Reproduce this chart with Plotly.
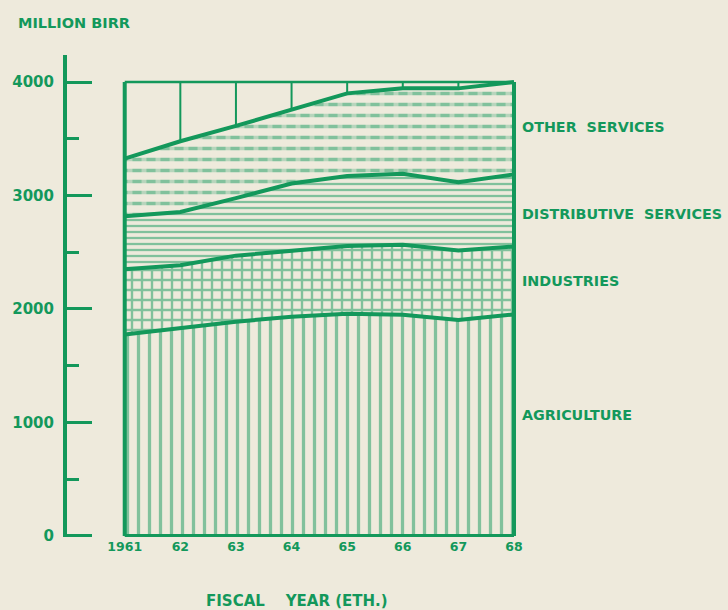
import numpy as np
import plotly.graph_objects as go

# ---- data (million birr) ----
years = [1961, 1962, 1963, 1964, 1965, 1966, 1967, 1968]
year_labels = ["1961", "62", "63", "64", "65", "66", "67", "68"]
agriculture = [1775, 1835, 1888, 1932, 1957, 1950, 1903, 1952]
industries = [575, 550, 582, 583, 598, 615, 612, 598]
distributive_services = [468, 470, 507, 591, 616, 627, 603, 636]
other_services = [507, 623, 636, 654, 729, 752, 826, 814]
y_ticks = [0, 1000, 2000, 3000, 4000]
series_names = ["AGRICULTURE", "INDUSTRIES", "DISTRIBUTIVE\u00a0\u00a0SERVICES", "OTHER\u00a0\u00a0SERVICES"]

GREEN = "#13985b"
BG = "#eeeadc"
FONT = "DejaVu Sans"

c1 = np.array(agriculture, dtype=float)
c2 = c1 + np.array(industries)
c3 = c2 + np.array(distributive_services)
c4 = c3 + np.array(other_services)
top = y_ticks[-1]

fig = go.Figure()

# Agriculture: vertical lines
fig.add_trace(go.Scatter(
    x=years, y=c1, mode="lines", line=dict(width=0, color=GREEN),
    fill="tozeroy", fillcolor=BG,
    fillpattern=dict(shape="|", size=11, solidity=0.3, fgcolor=GREEN, bgcolor=BG),
    hoverinfo="skip", showlegend=False))
# Industries: grid
fig.add_trace(go.Scatter(
    x=years, y=c2, mode="lines", line=dict(width=0, color=GREEN),
    fill="tonexty",
    fillpattern=dict(shape="+", size=10, solidity=0.42, fgcolor=GREEN, bgcolor=BG),
    hoverinfo="skip", showlegend=False))
# Distributive services: horizontal lines
fig.add_trace(go.Scatter(
    x=years, y=c3, mode="lines", line=dict(width=0, color=GREEN),
    fill="tonexty",
    fillpattern=dict(shape="-", size=6, solidity=0.38, fgcolor=GREEN, bgcolor=BG),
    hoverinfo="skip", showlegend=False))
# Other services: horizontal dashes (lines, then cut by background stripes)
fig.add_trace(go.Scatter(
    x=years, y=c4, mode="lines", line=dict(width=0, color=GREEN),
    fill="tonexty",
    fillpattern=dict(shape="-", size=11, solidity=0.32, fgcolor=GREEN, bgcolor=BG),
    hoverinfo="skip", showlegend=False))
fig.add_trace(go.Scatter(
    x=years, y=c3, mode="lines", line=dict(width=0, color=GREEN),
    hoverinfo="skip", showlegend=False))
fig.add_trace(go.Scatter(
    x=years, y=c4, mode="lines", line=dict(width=0, color=GREEN),
    fill="tonexty", fillcolor="rgba(0,0,0,0)",
    fillpattern=dict(shape="|", size=14, solidity=0.35, fgcolor=BG, bgcolor="rgba(0,0,0,0)"),
    hoverinfo="skip", showlegend=False))

# vertical lines in the open top region
vx, vy = [], []
for xv, yv in zip(years[1:-1], c4[1:-1]):
    vx += [xv, xv, None]
    vy += [yv, top, None]
fig.add_trace(go.Scatter(x=vx, y=vy, mode="lines", line=dict(width=2, color=GREEN),
                         hoverinfo="skip", showlegend=False))

# boundary lines
for cum in (c1, c2, c3, c4):
    fig.add_trace(go.Scatter(x=years, y=cum, mode="lines",
                             line=dict(width=4, color=GREEN),
                             hoverinfo="skip", showlegend=False))

# frame
fig.add_trace(go.Scatter(x=[years[0], years[-1]], y=[top, top], mode="lines",
                         line=dict(width=2.5, color=GREEN), hoverinfo="skip", showlegend=False))
fig.add_trace(go.Scatter(x=[years[0], years[0], None, years[-1], years[-1], None, years[0], years[-1]],
                         y=[0, top, None, 0, top, None, 0, 0], mode="lines",
                         line=dict(width=4, color=GREEN), hoverinfo="skip", showlegend=False))

label_y = [1066, 2247, 2837, 3604]
annotations = []
for name, ly in zip(series_names, label_y):
    annotations.append(dict(x=1, xref="paper", xshift=3, xanchor="left",
                            y=ly, yref="y", yanchor="middle", text=name, showarrow=False,
                            font=dict(family=FONT, size=14.3, color=GREEN, weight="bold")))
annotations.append(dict(x=-0.1128, xref="paper", xanchor="left", y=1.066, yref="paper",
                        yanchor="middle", text="MILLION\u00a0BIRR", showarrow=False,
                        font=dict(family=FONT, size=14.5, color=GREEN, weight="bold")))
annotations.append(dict(x=0.511, xref="paper", xanchor="center", y=-0.1328, yref="paper",
                        yanchor="middle", text="FISCAL\u00a0\u00a0\u00a0\u00a0YEAR\u00a0(ETH.)",
                        showarrow=False,
                        font=dict(family=FONT, size=15, color=GREEN, weight="bold")))

fig.update_layout(
    width=728, height=610,
    margin=dict(l=65, r=211, t=55, b=73),
    paper_bgcolor=BG, plot_bgcolor=BG,
    showlegend=False,
    annotations=annotations,
    xaxis=dict(range=[1959.962, 1968.054], tickvals=years, ticktext=year_labels,
               showgrid=False, zeroline=False, showline=False, ticks="",
               tickfont=dict(family=FONT, size=12.5, color=GREEN, weight="bold")),
    yaxis=dict(range=[-9, 4238], tickvals=y_ticks, showgrid=False, zeroline=False,
               showline=True, linewidth=4, linecolor=GREEN,
               ticks="inside", ticklen=25, tickwidth=3, tickcolor=GREEN,
               minor=dict(dtick=500, ticks="inside", ticklen=12, tickwidth=3, tickcolor=GREEN,
                          tick0=0, showgrid=False),
               ticklabelstandoff=6,
               tickfont=dict(family=FONT, size=15, color=GREEN, weight="bold")),
)

fig.write_html(
    "out.html",
    config={"displayModeBar": False},
    post_script="document.body.style.margin='0';document.body.style.padding='0';"
                "document.body.style.overflow='hidden';"
                "document.body.style.background='" + BG + "';",
)
